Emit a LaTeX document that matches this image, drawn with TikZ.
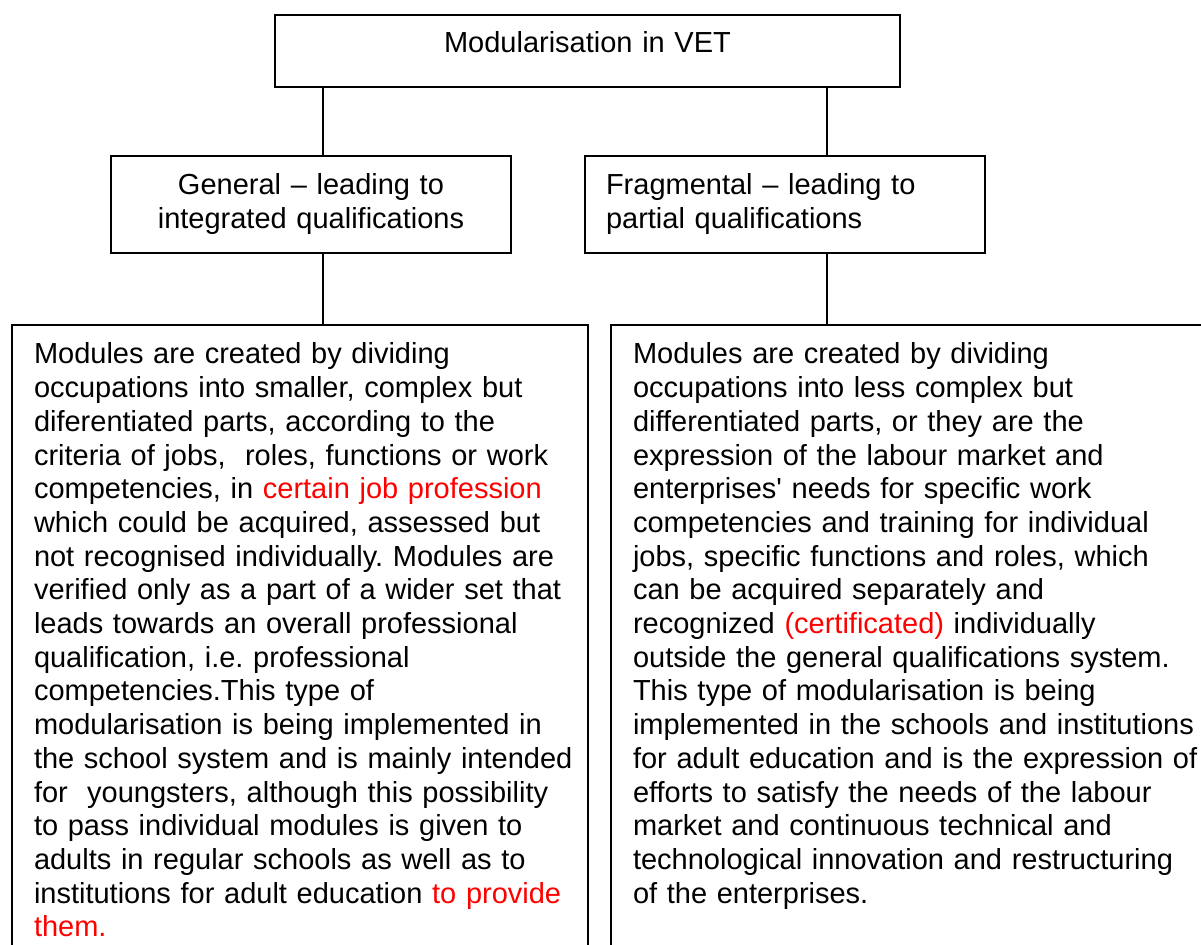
\documentclass[tikz,border=0pt]{standalone}
\usepackage{fontspec}
\setmainfont{Liberation Sans}
\usepackage{xcolor}

\tikzset{
  box/.style={draw, line width=1pt, inner sep=0pt, anchor=north west,
    font=\fontsize{14.5pt}{16.85pt}\selectfont\frenchspacing},
  head/.style={box, text height=19.5pt, text depth=29pt, text width=200pt},
  desc/.style={box, align=left, text height=19.5pt, text depth=298.5pt},
  link/.style={line width=1pt}
}

\begin{document}
\begin{tikzpicture}[x=0.5pt,y=-0.5pt]
\useasboundingbox (0,0) rectangle (1201,945);
\clip (0,0) rectangle (1201,945);

\node[box, align=center, text width=312.5pt, text height=19pt, text depth=17pt] (vet) at (274,14) {Modularisation in VET};

\node[head, align=center] (gen) at (110,155) {General \textendash\ leading to\\integrated qualifications};
\node[head, align=left] (frag) at (584,155) {\leftskip=10.5pt Fragmental \textendash\ leading to\\partial qualifications\par};

\node[desc, text width=288pt] (gendesc) at (11,324) {\leftskip=11pt Modules are created by dividing\\
occupations into smaller, complex but\\
diferentiated parts, according to the\\
criteria of jobs,\ \ roles, functions or work\\
competencies, in \textcolor{red}{certain job profession}\\
which could be acquired, assessed but\\
not recognised individually. Modules are\\
verified only as a part of a wider set that\\
leads towards an overall professional\\
qualification, i.e. professional\\
competencies.This type of\\
modularisation is being implemented in\\
the school system and is mainly intended\\
for\ \ youngsters, although this possibility\\
to pass individual modules is given to\\
adults in regular schools as well as to\\
institutions for adult education \textcolor{red}{to provide}\\
\textcolor{red}{them.}\par};

\node[desc, text width=300pt] (fragdesc) at (610,324) {\leftskip=11pt Modules are created by dividing\\
occupations into less complex but\\
differentiated parts, or they are the\\
expression of the labour market and\\
enterprises\textquotesingle\ needs for specific work\\
competencies and training for individual\\
jobs, specific functions and roles, which\\
can be acquired separately and\\
recognized \textcolor{red}{(certificated)} individually\\
outside the general qualifications system.\\
This type of modularisation is being\\
implemented in the schools and institutions\\
for adult education and is the expression of\\
efforts to satisfy the needs of the labour\\
market and continuous technical and\\
technological innovation and restructuring\\
of the enterprises.\par};

% vertical links
\coordinate (lx) at (323,0);
\coordinate (rx) at (827,0);
\draw[link] (vet.south -| lx) -- (gen.north -| lx);
\draw[link] (vet.south -| rx) -- (frag.north -| rx);
\draw[link] (gen.south -| lx) -- (gendesc.north -| lx);
\draw[link] (frag.south -| rx) -- (fragdesc.north -| rx);
\end{tikzpicture}
\end{document}
